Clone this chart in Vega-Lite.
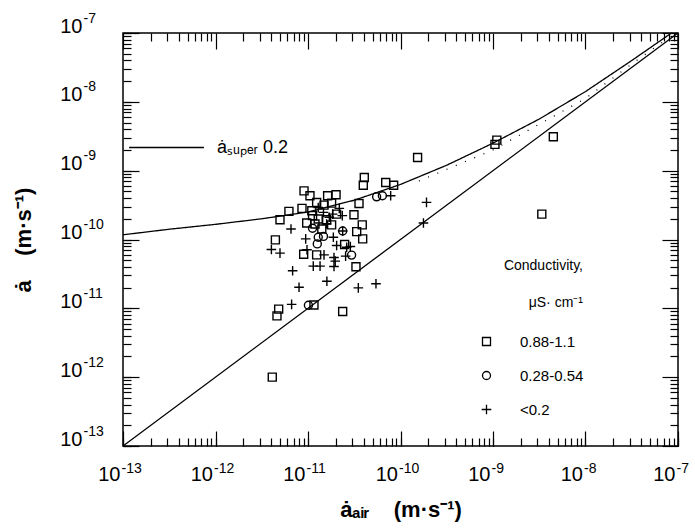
{
  "$schema": "https://vega.github.io/schema/vega-lite/v6.json",
  "width": 555,
  "height": 413,
  "autosize": "none",
  "padding": {"left": 123, "top": 33, "right": 17, "bottom": 84},
  "background": "white",
  "config": {
    "view": {"stroke": "black", "strokeWidth": 1.5},
    "font": "Liberation Sans",
    "axis": {"labelFont": "Liberation Sans", "titleFont": "Liberation Sans", "labelColor": "black", "titleColor": "black", "tickColor": "black", "grid": false, "domain": false, "tickWidth": 1.2, "labelOverlap": false, "labelFlush": false, "labelBound": false},
    "legend": {"labelFont": "Liberation Sans", "titleFont": "Liberation Sans", "labelColor": "black", "titleColor": "black"}
  },
  "datasets": {
    "curves": [
      {"x": 1e-13, "y": 1.17e-10, "curve": "super"},
      {"x": 3.16e-13, "y": 1.41e-10, "curve": "super"},
      {"x": 1e-12, "y": 1.66e-10, "curve": "super"},
      {"x": 3.16e-12, "y": 2.0e-10, "curve": "super"},
      {"x": 1e-11, "y": 2.51e-10, "curve": "super"},
      {"x": 3.16e-11, "y": 3.72e-10, "curve": "super"},
      {"x": 1e-10, "y": 6.31e-10, "curve": "super"},
      {"x": 3.16e-10, "y": 1.2e-9, "curve": "super"},
      {"x": 1e-9, "y": 2.51e-9, "curve": "super"},
      {"x": 3.16e-9, "y": 5.62e-9, "curve": "super"},
      {"x": 1e-8, "y": 1.41e-8, "curve": "super"},
      {"x": 3.16e-8, "y": 3.98e-8, "curve": "super"},
      {"x": 8.51e-8, "y": 1e-7, "curve": "super"},
      {"x": 1e-13, "y": 1e-13, "curve": "diagonal"},
      {"x": 1e-7, "y": 1e-7, "curve": "diagonal"},
      {"x": 1.58e-10, "y": 7.08e-10, "curve": "dotted"},
      {"x": 1e-9, "y": 2.0e-9, "curve": "dotted"},
      {"x": 1e-8, "y": 1.12e-8, "curve": "dotted"},
      {"x": 3.16e-8, "y": 3.55e-8, "curve": "dotted"},
      {"x": 9.33e-8, "y": 1e-7, "curve": "dotted"}
    ],
    "points": [
      {"x": 4.06e-11, "y": 7.94e-10, "cond": "0.88-1.1"},
      {"x": 3.96e-11, "y": 6.15e-10, "cond": "0.88-1.1"},
      {"x": 6.92e-11, "y": 6.73e-10, "cond": "0.88-1.1"},
      {"x": 8.43e-11, "y": 6.15e-10, "cond": "0.88-1.1"},
      {"x": 9.06e-12, "y": 5.09e-10, "cond": "0.88-1.1"},
      {"x": 1.05e-11, "y": 4.32e-10, "cond": "0.88-1.1"},
      {"x": 1.63e-11, "y": 4.32e-10, "cond": "0.88-1.1"},
      {"x": 2.01e-11, "y": 4.46e-10, "cond": "0.88-1.1"},
      {"x": 3.56e-11, "y": 3.34e-10, "cond": "0.88-1.1"},
      {"x": 8.61e-12, "y": 2.83e-10, "cond": "0.88-1.1"},
      {"x": 6.22e-12, "y": 2.56e-10, "cond": "0.88-1.1"},
      {"x": 4.98e-12, "y": 1.94e-10, "cond": "0.88-1.1"},
      {"x": 3.14e-11, "y": 2.29e-10, "cond": "0.88-1.1"},
      {"x": 3.86e-11, "y": 1.63e-10, "cond": "0.88-1.1"},
      {"x": 3.36e-11, "y": 1.30e-10, "cond": "0.88-1.1"},
      {"x": 3.90e-11, "y": 1.02e-10, "cond": "0.88-1.1"},
      {"x": 4.44e-12, "y": 9.86e-11, "cond": "0.88-1.1"},
      {"x": 8.98e-12, "y": 6.12e-11, "cond": "0.88-1.1"},
      {"x": 1.24e-11, "y": 5.98e-11, "cond": "0.88-1.1"},
      {"x": 2.49e-11, "y": 8.45e-11, "cond": "0.88-1.1"},
      {"x": 3.30e-11, "y": 4.02e-11, "cond": "0.88-1.1"},
      {"x": 4.82e-12, "y": 9.73e-12, "cond": "0.88-1.1"},
      {"x": 4.62e-12, "y": 7.78e-12, "cond": "0.88-1.1"},
      {"x": 2.37e-11, "y": 8.99e-12, "cond": "0.88-1.1"},
      {"x": 1.16e-11, "y": 1.12e-11, "cond": "0.88-1.1"},
      {"x": 1.24e-11, "y": 3.45e-10, "cond": "0.88-1.1"},
      {"x": 1.49e-11, "y": 3.16e-10, "cond": "0.88-1.1"},
      {"x": 1.80e-11, "y": 3.38e-10, "cond": "0.88-1.1"},
      {"x": 1.12e-11, "y": 2.22e-10, "cond": "0.88-1.1"},
      {"x": 1.29e-11, "y": 1.99e-10, "cond": "0.88-1.1"},
      {"x": 1.59e-11, "y": 1.94e-10, "cond": "0.88-1.1"},
      {"x": 9.68e-12, "y": 1.74e-10, "cond": "0.88-1.1"},
      {"x": 1.80e-11, "y": 1.63e-10, "cond": "0.88-1.1"},
      {"x": 1.41e-11, "y": 1.42e-10, "cond": "0.88-1.1"},
      {"x": 1.19e-11, "y": 1.68e-10, "cond": "0.88-1.1"},
      {"x": 2.04e-11, "y": 2.34e-10, "cond": "0.88-1.1"},
      {"x": 1.10e-11, "y": 2.62e-10, "cond": "0.88-1.1"},
      {"x": 1.10e-9, "y": 2.78e-9, "cond": "0.88-1.1"},
      {"x": 1.05e-9, "y": 2.41e-9, "cond": "0.88-1.1"},
      {"x": 4.49e-9, "y": 3.11e-9, "cond": "0.88-1.1"},
      {"x": 1.53e-10, "y": 1.55e-9, "cond": "0.88-1.1"},
      {"x": 3.37e-9, "y": 2.34e-10, "cond": "0.88-1.1"},
      {"x": 4.11e-12, "y": 1.0e-12, "cond": "0.88-1.1"},
      {"x": 5.52e-11, "y": 4.17e-10, "cond": "0.28-0.54"},
      {"x": 6.37e-11, "y": 4.32e-10, "cond": "0.28-0.54"},
      {"x": 2.37e-11, "y": 1.33e-10, "cond": "0.28-0.54"},
      {"x": 1.29e-11, "y": 1.08e-10, "cond": "0.28-0.54"},
      {"x": 1.26e-11, "y": 8.63e-11, "cond": "0.28-0.54"},
      {"x": 2.96e-11, "y": 5.93e-11, "cond": "0.28-0.54"},
      {"x": 1.01e-11, "y": 1.11e-11, "cond": "0.28-0.54"},
      {"x": 1.12e-11, "y": 1.46e-10, "cond": "0.28-0.54"},
      {"x": 1.47e-11, "y": 1.11e-10, "cond": "0.28-0.54"},
      {"x": 7.83e-11, "y": 4.32e-10, "cond": "<0.2"},
      {"x": 6.55e-12, "y": 1.42e-10, "cond": "<0.2"},
      {"x": 9.44e-12, "y": 1.02e-10, "cond": "<0.2"},
      {"x": 4.02e-12, "y": 7.16e-11, "cond": "<0.2"},
      {"x": 4.98e-12, "y": 6.34e-11, "cond": "<0.2"},
      {"x": 9.75e-12, "y": 7.08e-11, "cond": "<0.2"},
      {"x": 1.49e-11, "y": 5.98e-11, "cond": "<0.2"},
      {"x": 1.91e-11, "y": 5.48e-11, "cond": "<0.2"},
      {"x": 2.55e-11, "y": 5.73e-11, "cond": "<0.2"},
      {"x": 2.87e-11, "y": 7.91e-11, "cond": "<0.2"},
      {"x": 6.82e-12, "y": 3.52e-11, "cond": "<0.2"},
      {"x": 1.14e-11, "y": 4.11e-11, "cond": "<0.2"},
      {"x": 1.35e-11, "y": 4.11e-11, "cond": "<0.2"},
      {"x": 1.91e-11, "y": 4.06e-11, "cond": "<0.2"},
      {"x": 1.97e-11, "y": 4.85e-11, "cond": "<0.2"},
      {"x": 8.0e-12, "y": 2.02e-11, "cond": "<0.2"},
      {"x": 1.60e-11, "y": 2.47e-11, "cond": "<0.2"},
      {"x": 3.50e-11, "y": 1.98e-11, "cond": "<0.2"},
      {"x": 5.43e-11, "y": 2.28e-11, "cond": "<0.2"},
      {"x": 6.65e-12, "y": 1.14e-11, "cond": "<0.2"},
      {"x": 2.37e-11, "y": 1.33e-10, "cond": "<0.2"},
      {"x": 1.29e-11, "y": 2.92e-10, "cond": "<0.2"},
      {"x": 1.47e-11, "y": 2.48e-10, "cond": "<0.2"},
      {"x": 1.70e-11, "y": 2.10e-10, "cond": "<0.2"},
      {"x": 1.85e-11, "y": 2.34e-10, "cond": "<0.2"},
      {"x": 2.18e-11, "y": 2.83e-10, "cond": "<0.2"},
      {"x": 2.35e-11, "y": 2.22e-10, "cond": "<0.2"},
      {"x": 1.59e-11, "y": 1.68e-10, "cond": "<0.2"},
      {"x": 1.88e-11, "y": 1.08e-10, "cond": "<0.2"},
      {"x": 2.04e-11, "y": 8.17e-11, "cond": "<0.2"},
      {"x": 2.62e-11, "y": 7.73e-11, "cond": "<0.2"},
      {"x": 1.91e-10, "y": 3.46e-10, "cond": "<0.2"},
      {"x": 1.77e-10, "y": 1.74e-10, "cond": "<0.2"}
    ]
  },
  "layer": [
    {
      "data": {"name": "curves"},
      "transform": [{"filter": "datum.curve === 'diagonal'"}],
      "mark": {"type": "line", "color": "black", "strokeWidth": 1.3},
      "encoding": {
        "x": {
          "field": "x", "type": "quantitative",
          "scale": {"type": "log", "domain": [1e-13, 1e-7], "nice": false},
          "axis": {
            "orient": "bottom",
            "values": [1e-13, 1e-12, 1e-11, 1e-10, 1e-9, 1e-8, 1e-7],
            "labelExpr": "'10'",
            "tickSize": -15,
            "labelFontSize": 20,
            "labelAlign": "right",
            "labelOffset": -3,
            "labelPadding": 33,
            "title": "ȧₐᵢᵣ\u00a0\u00a0\u00a0\u00a0(m·s⁻¹)",
            "titleFontSize": 22,
            "titleFontWeight": "bold",
            "titlePadding": 15
          }
        },
        "y": {
          "field": "y", "type": "quantitative",
          "scale": {"type": "log", "domain": [1e-13, 1e-7], "nice": false},
          "axis": {
            "orient": "left",
            "values": [1e-13, 1e-12, 1e-11, 1e-10, 1e-9, 1e-8, 1e-7],
            "labelExpr": "'10'",
            "tickSize": -16,
            "labelFontSize": 20,
            "labelAlign": "right",
            "labelPadding": 57,
            "labelOffset": -7,
            "title": "ȧ\u00a0\u00a0\u00a0\u00a0(m·s⁻¹)",
            "titleFontSize": 22,
            "titleFontWeight": "bold",
            "titlePadding": 24
          }
        }
      }
    },
    {
      "data": {"name": "curves"},
      "transform": [{"filter": "datum.curve === 'super'"}],
      "mark": {"type": "line", "color": "black", "strokeWidth": 1.3},
      "encoding": {
        "x": {
          "field": "x", "type": "quantitative",
          "axis": {"orient": "top", "values": [1e-13, 1e-12, 1e-11, 1e-10, 1e-9, 1e-8, 1e-7], "labels": false, "title": null, "tickSize": -16}
        },
        "y": {
          "field": "y", "type": "quantitative",
          "axis": {"orient": "right", "values": [1e-13, 1e-12, 1e-11, 1e-10, 1e-9, 1e-8, 1e-7], "labels": false, "title": null, "tickSize": -16}
        },
        "strokeDash": {
          "field": "curve", "type": "nominal",
          "scale": {"domain": ["super"], "range": [[1, 0]]},
          "legend": {
            "labelExpr": "'ȧₛᵤₚₑᵣ 0.2'",
            "title": null,
            "orient": "none",
            "legendX": 5,
            "legendY": 76,
            "symbolType": "stroke",
            "symbolSize": 5600,
            "symbolStrokeWidth": 1.3,
            "symbolStrokeColor": "black",
            "labelFontSize": 18,
            "labelOffset": 12
          }
        }
      }
    },
    {
      "data": {"name": "curves"},
      "transform": [{"filter": "datum.curve === 'dotted'"}],
      "mark": {"type": "line", "color": "black", "strokeWidth": 1.3, "strokeDash": [1, 9]},
      "encoding": {
        "x": {
          "field": "x", "type": "quantitative",
          "axis": {
            "orient": "bottom",
            "values": [1e-13,2e-13,3e-13,4e-13,5e-13,6e-13,7e-13,8e-13,9e-13,1e-12,2e-12,3e-12,4e-12,5e-12,6e-12,7e-12,8e-12,9e-12,1e-11,2e-11,3e-11,4e-11,5e-11,6e-11,7e-11,8e-11,9e-11,1e-10,2e-10,3e-10,4e-10,5e-10,6e-10,7e-10,8e-10,9e-10,1e-9,2e-9,3e-9,4e-9,5e-9,6e-9,7e-9,8e-9,9e-9,1e-8,2e-8,3e-8,4e-8,5e-8,6e-8,7e-8,8e-8,9e-8,1e-7],
            "labelExpr": "abs(log(datum.value)/LN10 - round(log(datum.value)/LN10)) < 0.01 ? '-' + abs(round(log(datum.value)/LN10)) : ''",
            "labelFontSize": 14,
            "labelAlign": "left",
            "labelOffset": -2,
            "labelPadding": 23,
            "title": null,
            "tickSize": -8
          }
        },
        "y": {
          "field": "y", "type": "quantitative",
          "axis": {
            "orient": "left",
            "values": [1e-13,2e-13,3e-13,4e-13,5e-13,6e-13,7e-13,8e-13,9e-13,1e-12,2e-12,3e-12,4e-12,5e-12,6e-12,7e-12,8e-12,9e-12,1e-11,2e-11,3e-11,4e-11,5e-11,6e-11,7e-11,8e-11,9e-11,1e-10,2e-10,3e-10,4e-10,5e-10,6e-10,7e-10,8e-10,9e-10,1e-9,2e-9,3e-9,4e-9,5e-9,6e-9,7e-9,8e-9,9e-9,1e-8,2e-8,3e-8,4e-8,5e-8,6e-8,7e-8,8e-8,9e-8,1e-7],
            "labelExpr": "abs(log(datum.value)/LN10 - round(log(datum.value)/LN10)) < 0.01 ? '-' + abs(round(log(datum.value)/LN10)) : ''",
            "labelFontSize": 14,
            "labelAlign": "left",
            "labelPadding": 48,
            "labelOffset": -15,
            "title": null,
            "tickSize": -8
          }
        }
      }
    },
    {
      "data": {"name": "points"},
      "mark": {"type": "point", "filled": false, "color": "black", "strokeWidth": 1.4, "opacity": 1, "size": 64},
      "encoding": {
        "x": {
          "field": "x", "type": "quantitative",
          "axis": {"orient": "top", "values": [2e-13,3e-13,4e-13,5e-13,6e-13,7e-13,8e-13,9e-13,2e-12,3e-12,4e-12,5e-12,6e-12,7e-12,8e-12,9e-12,2e-11,3e-11,4e-11,5e-11,6e-11,7e-11,8e-11,9e-11,2e-10,3e-10,4e-10,5e-10,6e-10,7e-10,8e-10,9e-10,2e-9,3e-9,4e-9,5e-9,6e-9,7e-9,8e-9,9e-9,2e-8,3e-8,4e-8,5e-8,6e-8,7e-8,8e-8,9e-8], "labels": false, "title": null, "tickSize": -8}
        },
        "y": {
          "field": "y", "type": "quantitative",
          "axis": {"orient": "right", "values": [2e-13,3e-13,4e-13,5e-13,6e-13,7e-13,8e-13,9e-13,2e-12,3e-12,4e-12,5e-12,6e-12,7e-12,8e-12,9e-12,2e-11,3e-11,4e-11,5e-11,6e-11,7e-11,8e-11,9e-11,2e-10,3e-10,4e-10,5e-10,6e-10,7e-10,8e-10,9e-10,2e-9,3e-9,4e-9,5e-9,6e-9,7e-9,8e-9,9e-9,2e-8,3e-8,4e-8,5e-8,6e-8,7e-8,8e-8,9e-8], "labels": false, "title": null, "tickSize": -8}
        },
        "shape": {
          "field": "cond", "type": "nominal",
          "scale": {"domain": ["0.88-1.1", "0.28-0.54", "<0.2"], "range": ["square", "circle", "M-1.2,0H1.2M0,-1.2V1.2"]},
          "legend": {
            "title": ["Conductivity,", "μS· cm⁻¹"],
            "titleFontSize": 14,
            "titleFontWeight": "normal",
            "titleLineHeight": 37,
            "titlePadding": 24,
            "titleAnchor": "end",
            "titleAlign": "right",
            "orient": "none",
            "legendX": 356,
            "legendY": 226,
            "labelFontSize": 15,
            "labelOffset": 26,
            "labelExpr": "datum.label + '\u00a0\u00a0\u00a0\u00a0'",
            "rowPadding": 18,
            "symbolSize": 64,
            "symbolStrokeColor": "black",
            "symbolStrokeWidth": 1.3,
            "symbolFillColor": "transparent"
          }
        }
      }
    }
  ],
  "resolve": {"axis": {"x": "independent", "y": "independent"}}
}
